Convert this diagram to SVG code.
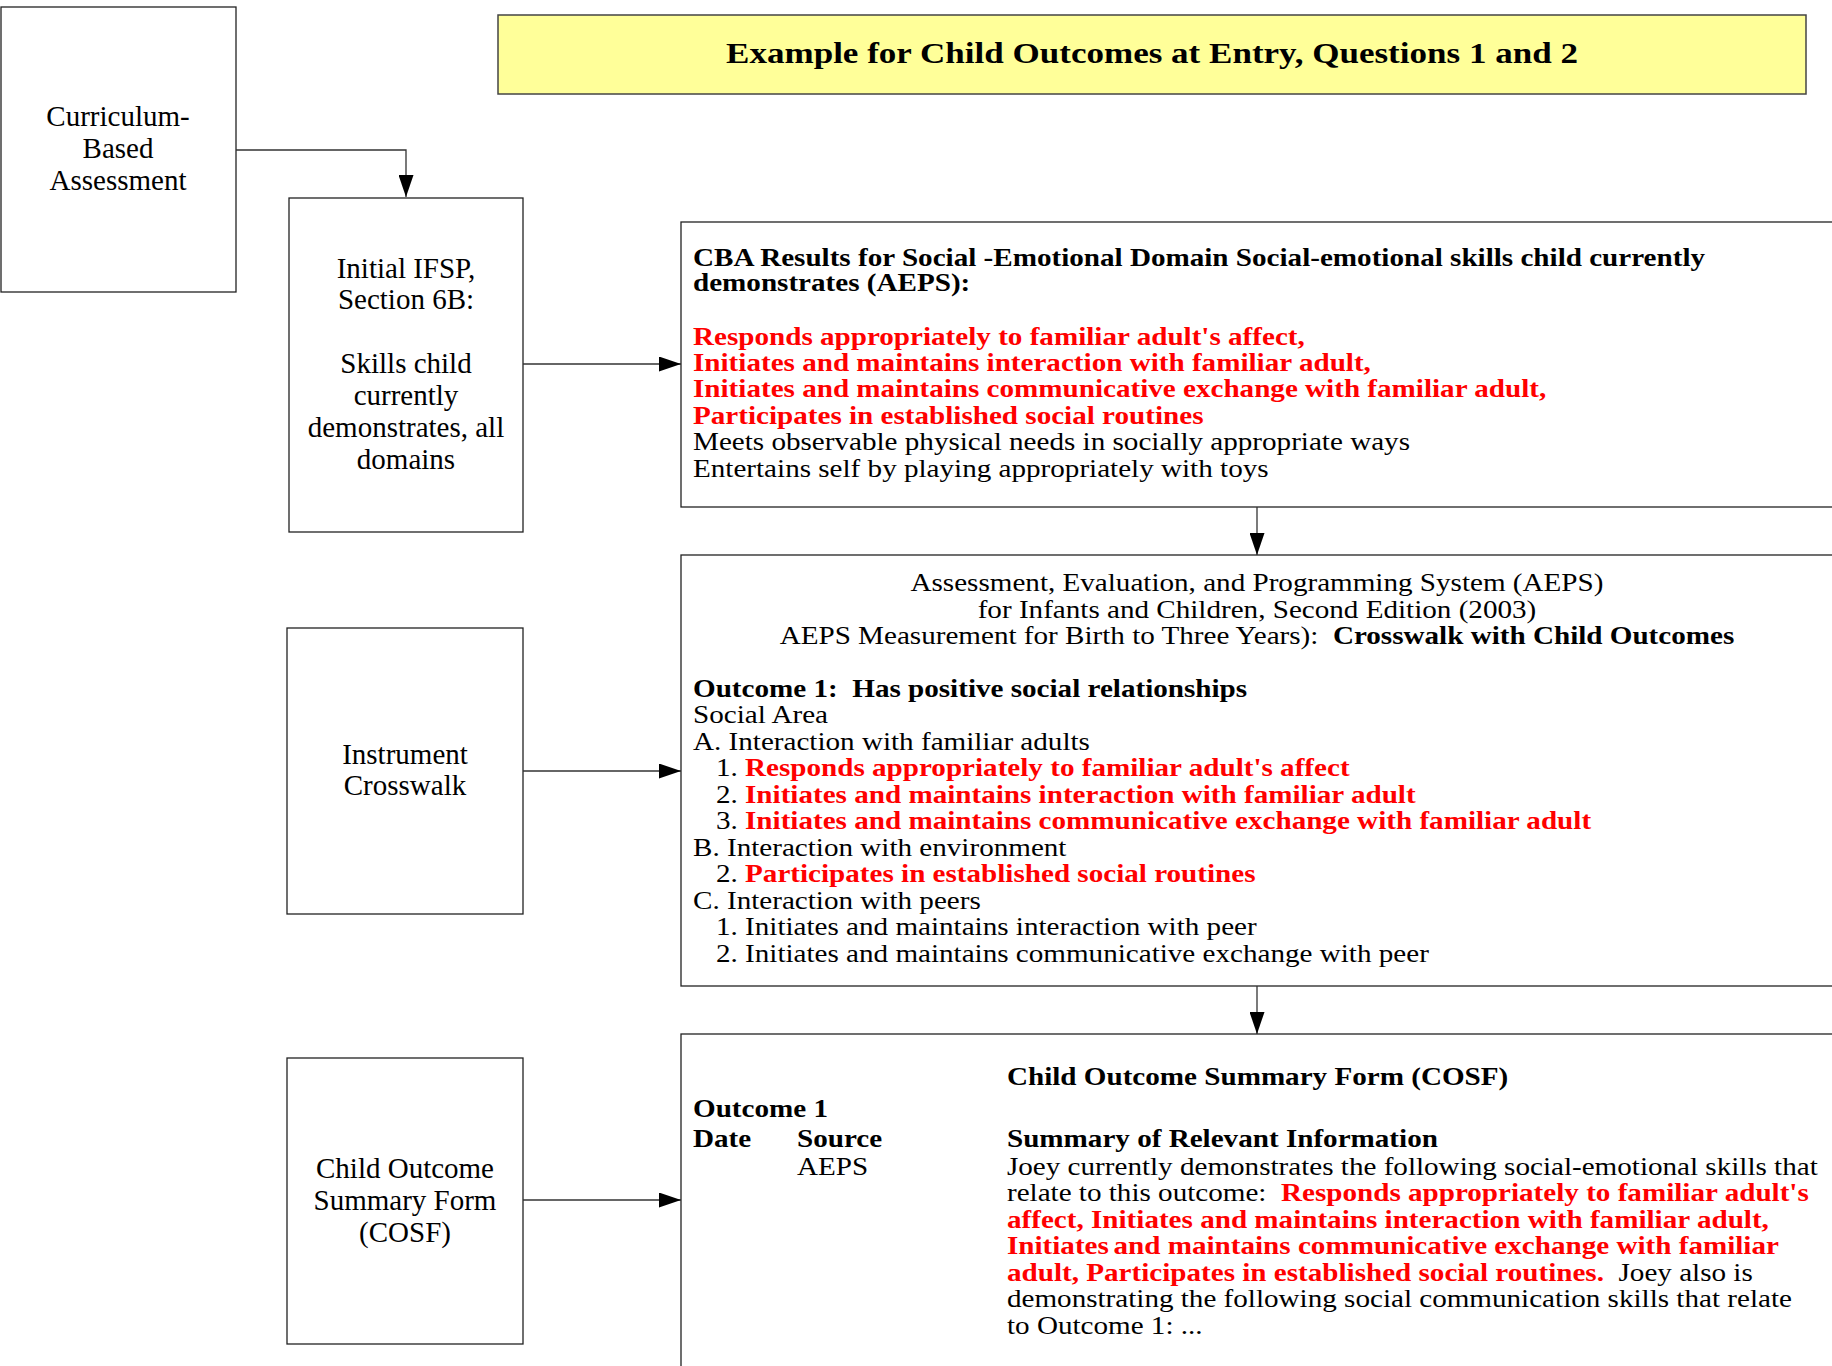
<svg xmlns="http://www.w3.org/2000/svg" width="1832" height="1366" viewBox="0 0 1832 1366">
<style>
.box{fill:#fff;stroke:#222;stroke-width:1.3}
.title{fill:#ffff99;stroke:#444;stroke-width:1.5}
.lt{font-family:"Liberation Serif","Times New Roman",serif;font-size:29px;fill:#000;text-anchor:middle}
.t{font-family:"Liberation Serif","Times New Roman",serif;font-size:25px;fill:#000}
.b{font-weight:bold}
.r{fill:#ff0000;font-weight:bold}
.c{text-anchor:middle}
.conn{fill:none;stroke:#333;stroke-width:1.3}
</style>
<defs>
<marker id="arr" viewBox="0 0 22 15" refX="22" refY="7.5" markerWidth="22" markerHeight="15" markerUnits="userSpaceOnUse" orient="auto">
<path d="M0,0 L22,7.5 L0,15 Z" fill="#000"/>
</marker>
</defs>
<rect width="1832" height="1366" fill="#fff"/>

<g id="title">
<rect class="title" x="498" y="15" width="1308" height="79"/>
<g transform="translate(1152,0) scale(1.168,1)">
<text class="t b c" x="0" y="63" style="font-size:30px">Example for Child Outcomes at Entry, Questions 1 and 2</text>
</g>
</g>

<g id="cba-node">
<rect class="box" x="1" y="7" width="235" height="285"/>
<text class="lt" x="118" y="126">Curriculum-</text>
<text class="lt" x="118" y="158">Based</text>
<text class="lt" x="118" y="190">Assessment</text>
</g>

<g id="ifsp-node">
<rect class="box" x="289" y="198" width="234" height="334"/>
<text class="lt" x="406" y="278">Initial IFSP,</text>
<text class="lt" x="406" y="309">Section 6B:</text>
<text class="lt" x="406" y="373">Skills child</text>
<text class="lt" x="406" y="405">currently</text>
<text class="lt" x="406" y="437">demonstrates, all</text>
<text class="lt" x="406" y="469">domains</text>
</g>

<g id="crosswalk-node">
<rect class="box" x="287" y="628" width="236" height="286"/>
<text class="lt" x="405" y="764">Instrument</text>
<text class="lt" x="405" y="795">Crosswalk</text>
</g>

<g id="cosf-node">
<rect class="box" x="287" y="1058" width="236" height="286"/>
<text class="lt" x="405" y="1178">Child Outcome</text>
<text class="lt" x="405" y="1210">Summary Form</text>
<text class="lt" x="405" y="1242">(COSF)</text>
</g>

<g id="cba-results">
<rect class="box" x="681" y="222" width="1200" height="285"/>
<g transform="translate(693,0) scale(1.165,1)">
<text class="t b" x="0" y="266">CBA Results for Social -Emotional Domain Social-emotional skills child currently</text>
<text class="t b" x="0" y="291.5">demonstrates (AEPS):</text>
<text class="t r" x="0" y="345">Responds appropriately to familiar adult's affect,</text>
<text class="t r" x="0" y="371">Initiates and maintains interaction with familiar adult,</text>
<text class="t r" x="0" y="397.5">Initiates and maintains communicative exchange with familiar adult,</text>
<text class="t r" x="0" y="424">Participates in established social routines</text>
<text class="t" x="0" y="450.5">Meets observable physical needs in socially appropriate ways</text>
<text class="t" x="0" y="477">Entertains self by playing appropriately with toys</text>
</g>
</g>

<g id="aeps-crosswalk">
<rect class="box" x="681" y="555" width="1200" height="431"/>
<g transform="translate(693,0) scale(1.165,1)">
<text class="t c" x="484.1" y="591.5">Assessment, Evaluation, and Programming System (AEPS)</text>
<text class="t c" x="484.1" y="618">for Infants and Children, Second Edition (2003)</text>
<text class="t c" x="484.1" y="644">AEPS Measurement for Birth to Three Years):&#160; <tspan class="b">Crosswalk with Child Outcomes</tspan></text>
<text class="t b" x="0" y="697">Outcome 1:&#160; Has positive social relationships</text>
<text class="t" x="0" y="723.5">Social Area</text>
<text class="t" x="0" y="750">A. Interaction with familiar adults</text>
<text class="t" x="19.7" y="776.5">1. <tspan class="r">Responds appropriately to familiar adult's affect</tspan></text>
<text class="t" x="19.7" y="803">2. <tspan class="r">Initiates and maintains interaction with familiar adult</tspan></text>
<text class="t" x="19.7" y="829.5">3. <tspan class="r">Initiates and maintains communicative exchange with familiar adult</tspan></text>
<text class="t" x="0" y="856">B. Interaction with environment</text>
<text class="t" x="19.7" y="882.5">2. <tspan class="r">Participates in established social routines</tspan></text>
<text class="t" x="0" y="909">C. Interaction with peers</text>
<text class="t" x="19.7" y="935.5">1. Initiates and maintains interaction with peer</text>
<text class="t" x="19.7" y="962">2. Initiates and maintains communicative exchange with peer</text>
</g>
</g>

<g id="cosf-form">
<rect class="box" x="681" y="1034" width="1200" height="400"/>
<g transform="translate(693,0) scale(1.165,1)">
<text class="t b" x="269.5" y="1085">Child Outcome Summary Form (COSF)</text>
<text class="t b" x="0" y="1117">Outcome 1</text>
<text class="t b" x="0" y="1147.5">Date</text>
<text class="t b" x="89.3" y="1147.5">Source</text>
<text class="t" x="89.3" y="1175">AEPS</text>
<text class="t b" x="269.5" y="1147.5">Summary of Relevant Information</text>
<text class="t" x="269.5" y="1175">Joey currently demonstrates the following social-emotional skills that</text>
<text class="t" x="269.5" y="1201.5">relate to this outcome:&#160; <tspan class="r">Responds appropriately to familiar adult's</tspan></text>
<text class="t r" x="269.5" y="1228">affect, Initiates and maintains interaction with familiar adult,</text>
<text class="t r" x="269.5" y="1254.5">Initiates<tspan dx="4">and maintains communicative exchange with familiar</tspan></text>
<text class="t" x="269.5" y="1281"><tspan class="r">adult, Participates in established social routines.</tspan>&#160; Joey also is</text>
<text class="t" x="269.5" y="1307.5">demonstrating the following social communication skills that relate</text>
<text class="t" x="269.5" y="1334">to Outcome 1: ...</text>
</g>
</g>

<g id="connectors">
<path class="conn" d="M236,150 H406 V197" marker-end="url(#arr)"/>
<path class="conn" d="M523,364 H681" marker-end="url(#arr)"/>
<path class="conn" d="M1257,507 V555" marker-end="url(#arr)"/>
<path class="conn" d="M523,771 H681" marker-end="url(#arr)"/>
<path class="conn" d="M1257,986 V1034" marker-end="url(#arr)"/>
<path class="conn" d="M523,1200 H681" marker-end="url(#arr)"/>
</g>
</svg>
